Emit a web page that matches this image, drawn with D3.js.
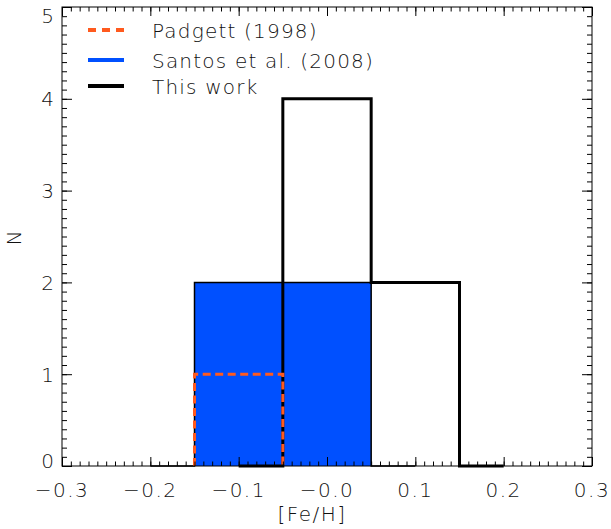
<!DOCTYPE html>
<html><head><meta charset="utf-8">
<script src="https://cdn.jsdelivr.net/npm/d3@7"></script>
<style>body{margin:0;background:#fff}svg{display:block}text{font-family:"DejaVu Sans","Liberation Sans",Arial,sans-serif;font-weight:200;fill:#111}</style>
</head><body>
<script>
// ---- data ----
const xTicks = [-0.3, -0.2, -0.1, 0.0, 0.1, 0.2, 0.3];
const xTickLabels = ["\u22120.3", "\u22120.2", "\u22120.1", "\u22120.0", "0.1", "0.2", "0.3"];
const yTicks = [0, 1, 2, 3, 4, 5];
const yTickLabels = ["0", "1", "2", "3", "4", "5"];
// histogram points (bin centres, counts), drawn in IDL psym=10 style
const thisWorkX = [-0.1, 0.0, 0.1, 0.2];
const thisWorkN = [0, 4, 2, 0];
const santosX = [-0.2, -0.1, 0.0, 0.1];
const santosN = [0, 2, 2, 0];
// Padgett: single bin centre and count
const padgettX = [-0.1];
const padgettN = [1];
const binWidth = 0.1;
const legendLabels = ["Padgett (1998)", "Santos et al. (2008)", "This work"];
const xTitle = "[Fe/H]";
const yTitle = "N";

// ---- layout ----
const W = 611, H = 529;
const L = 62, R = 592, T = 7, B = 466;
const blue = "#0050ff", orange = "#ff5a1e";

const svg = d3.select("body").append("svg").attr("width", W).attr("height", H);
const x = d3.scaleLinear().domain([-0.3, 0.3]).range([L, R]);
const y = d3.scaleLinear().domain([0, 5]).range([B, T]);

function psym10(xs, ns) {
  const pts = [];
  for (let i = 0; i < xs.length; i++) {
    const x0 = i === 0 ? xs[0] : (xs[i - 1] + xs[i]) / 2;
    const x1 = i === xs.length - 1 ? xs[i] : (xs[i] + xs[i + 1]) / 2;
    pts.push([x0, ns[i]], [x1, ns[i]]);
  }
  return pts;
}
function boxes(xs, ns) {
  const pts = [];
  xs.forEach((c, i) => {
    pts.push([c - binWidth / 2, 0], [c - binWidth / 2, ns[i]], [c + binWidth / 2, ns[i]], [c + binWidth / 2, 0]);
  });
  return pts;
}
const line = d3.line().x(d => x(d[0])).y(d => y(d[1]));

// Santos fill
const sPts = psym10(santosX, santosN);
svg.append("path")
  .attr("d", line([[sPts[0][0], 0], ...sPts, [sPts[sPts.length - 1][0], 0]]) + "Z")
  .attr("fill", blue).attr("stroke", "none");
svg.append("path").attr("d", line(sPts)).attr("fill", "none").attr("stroke", "#000").attr("stroke-width", 1.5);

// This work
svg.append("path").attr("d", line(psym10(thisWorkX, thisWorkN)))
  .attr("fill", "none").attr("stroke", "#000").attr("stroke-width", 3);

// Padgett
svg.append("path").attr("d", line(boxes(padgettX, padgettN)))
  .attr("fill", "none").attr("stroke", orange).attr("stroke-width", 3).attr("stroke-dasharray", "8,4.5");

// ---- axes ----
const xMinor = d3.range(-0.3, 0.3001, 0.01).map(v => +v.toFixed(3));
const yMinor = d3.range(0, 5.001, 0.1).map(v => +v.toFixed(3));
function addAxis(gen, transform) {
  const g = svg.append("g").attr("transform", transform).call(gen);
  g.select(".domain").remove();
  g.selectAll("text").remove();
  g.selectAll("line").attr("stroke", "#000").attr("stroke-width", 1);
}
addAxis(d3.axisBottom(x).tickValues(xMinor).tickSize(-4.5), `translate(0,${B})`);
addAxis(d3.axisBottom(x).tickValues(xTicks).tickSize(-9), `translate(0,${B})`);
addAxis(d3.axisTop(x).tickValues(xMinor).tickSize(-4.5), `translate(0,${T})`);
addAxis(d3.axisTop(x).tickValues(xTicks).tickSize(-9), `translate(0,${T})`);
addAxis(d3.axisLeft(y).tickValues(yMinor).tickSize(-5), `translate(${L},0)`);
addAxis(d3.axisLeft(y).tickValues(yTicks).tickSize(-10), `translate(${L},0)`);
addAxis(d3.axisRight(y).tickValues(yMinor).tickSize(-5), `translate(${R},0)`);
addAxis(d3.axisRight(y).tickValues(yTicks).tickSize(-10), `translate(${R},0)`);
svg.append("rect").attr("x", L).attr("y", T).attr("width", R - L).attr("height", B - T)
  .attr("fill", "none").attr("stroke", "#000").attr("stroke-width", 1);

// tick labels
const fs = 20, ls = "1.5px";
svg.selectAll(".xl").data(xTicks).enter().append("text")
  .attr("x", d => x(d)).attr("y", 497).attr("text-anchor", "middle")
  .attr("font-size", fs).style("letter-spacing", ls)
  .text((d, i) => xTickLabels[i]);
svg.selectAll(".yl").data(yTicks).enter().append("text")
  .attr("x", 54).attr("y", d => Math.max(15.5, Math.min(460, y(d))) + 7.5).attr("text-anchor", "end")
  .attr("font-size", fs)
  .text((d, i) => yTickLabels[i]);

// axis titles
svg.append("text").attr("x", 312).attr("y", 521).attr("text-anchor", "middle")
  .attr("font-size", fs).style("letter-spacing", ls).text(xTitle);
svg.append("text").attr("transform", "translate(21,238) rotate(-90)").attr("text-anchor", "middle")
  .attr("font-size", fs).text(yTitle);

// legend
const legY = [30, 60, 86];
const legStyles = [
  {stroke: orange, dash: "8,6", w: 4},
  {stroke: blue, dash: null, w: 4},
  {stroke: "#000", dash: null, w: 4}
];
legendLabels.forEach((t, i) => {
  svg.append("line").attr("x1", 88).attr("x2", 124).attr("y1", legY[i]).attr("y2", legY[i])
    .attr("stroke", legStyles[i].stroke).attr("stroke-width", legStyles[i].w)
    .attr("stroke-dasharray", legStyles[i].dash);
  svg.append("text").attr("x", 152).attr("y", legY[i] + 7.5).attr("font-size", fs)
    .style("letter-spacing", "1.2px").text(t);
});
</script>
</body></html>
